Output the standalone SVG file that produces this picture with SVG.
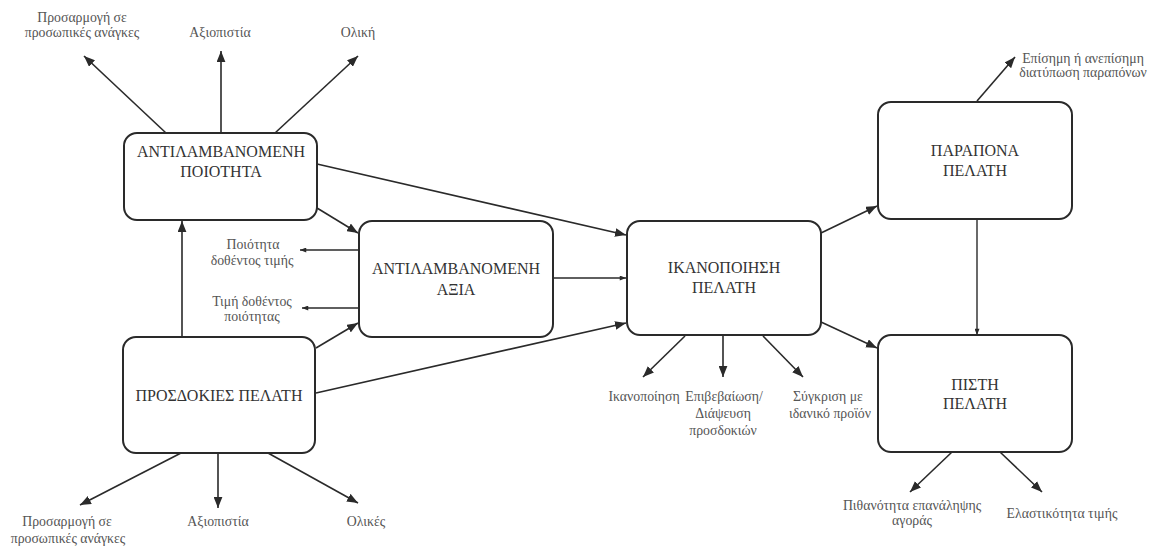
<svg xmlns="http://www.w3.org/2000/svg" width="1158" height="549" viewBox="0 0 1158 549">
<defs>
<marker id="ah" markerUnits="userSpaceOnUse" viewBox="0 0 10 8" refX="10" refY="4" markerWidth="11" markerHeight="9" orient="auto">
<path d="M0,0 L10,4 L0,8 z" fill="#2a2a2a"/>
</marker>
<marker id="ahs" markerUnits="userSpaceOnUse" viewBox="0 0 10 8" refX="10" refY="4" markerWidth="7" markerHeight="5" orient="auto">
<path d="M0,0 L10,4 L0,8 z" fill="#2a2a2a"/>
</marker>
<style>
.box{fill:#fff;stroke:#2a2a2a;stroke-width:2}
.nt{font-family:"Liberation Serif","DejaVu Serif",serif;font-size:16px;fill:#333;text-anchor:middle}
.lb{font-family:"Liberation Serif","DejaVu Serif",serif;font-size:13.8px;fill:#555;text-anchor:middle}
.c{stroke:#2a2a2a;stroke-width:1.6;fill:none;marker-end:url(#ah)}
.cs{stroke:#2a2a2a;stroke-width:1.4;fill:none;marker-end:url(#ahs)}
</style>
</defs>
<rect width="1158" height="549" fill="#fff"/>

<g id="connectors">
<line class="c" x1="166" y1="133" x2="84" y2="56"/>
<line class="c" x1="221" y1="133" x2="221" y2="51"/>
<line class="c" x1="275" y1="133" x2="358" y2="56"/>
<line class="c" x1="181" y1="453" x2="80" y2="505"/>
<line class="c" x1="218" y1="453" x2="218" y2="508"/>
<line class="c" x1="268" y1="453" x2="358" y2="503"/>
<line class="c" x1="182" y1="337" x2="182" y2="221"/>
<line class="c" x1="317" y1="208" x2="358" y2="233"/>
<line class="c" x1="317" y1="164" x2="626" y2="235"/>
<line class="c" x1="316" y1="348" x2="358" y2="323"/>
<line class="c" x1="316" y1="393" x2="626" y2="323"/>
<line class="cs" x1="553" y1="278" x2="626" y2="278"/>
<line class="cs" x1="359" y1="250" x2="300" y2="250"/>
<line class="cs" x1="359" y1="308" x2="302" y2="308"/>
<line class="c" x1="685" y1="336" x2="643" y2="377"/>
<line class="c" x1="723" y1="336" x2="723" y2="377"/>
<line class="c" x1="763" y1="336" x2="803" y2="377"/>
<line class="c" x1="821" y1="233" x2="877" y2="206"/>
<line class="c" x1="821" y1="322" x2="877" y2="348"/>
<line class="cs" x1="977" y1="219" x2="977" y2="335"/>
<line class="c" x1="977" y1="101" x2="1015" y2="57"/>
<line class="c" x1="952" y1="452" x2="910" y2="492"/>
<line class="c" x1="1000" y1="452" x2="1042" y2="492"/>
</g>

<g id="node-poiotita">
<rect class="box" x="124" y="133" width="193" height="87" rx="13"/>
<text class="nt" x="221" y="157">ΑΝΤΙΛΑΜΒΑΝΟΜΕΝΗ</text>
<text class="nt" x="221" y="177">ΠΟΙΟΤΗΤΑ</text>
</g>
<g id="node-axia">
<rect class="box" x="359" y="221" width="194" height="116" rx="13"/>
<text class="nt" x="456" y="274">ΑΝΤΙΛΑΜΒΑΝΟΜΕΝΗ</text>
<text class="nt" x="456" y="295">ΑΞΙΑ</text>
</g>
<g id="node-ikanopoiisi">
<rect class="box" x="627" y="221" width="194" height="114" rx="13"/>
<text class="nt" x="724" y="273">ΙΚΑΝΟΠΟΙΗΣΗ</text>
<text class="nt" x="724" y="293">ΠΕΛΑΤΗ</text>
</g>
<g id="node-parapona">
<rect class="box" x="878" y="102" width="194" height="117" rx="13"/>
<text class="nt" x="975" y="156">ΠΑΡΑΠΟΝΑ</text>
<text class="nt" x="975" y="176">ΠΕΛΑΤΗ</text>
</g>
<g id="node-pisti">
<rect class="box" x="878" y="335" width="194" height="117" rx="13"/>
<text class="nt" x="975" y="390">ΠΙΣΤΗ</text>
<text class="nt" x="975" y="409">ΠΕΛΑΤΗ</text>
</g>
<g id="node-prosdokies">
<rect class="box" x="123" y="337" width="192" height="116" rx="13"/>
<text class="nt" x="219" y="401">ΠΡΟΣΔΟΚΙΕΣ ΠΕΛΑΤΗ</text>
</g>

<g id="labels">
<text class="lb" x="82" y="22">Προσαρμογή σε</text>
<text class="lb" x="82" y="37">προσωπικές ανάγκες</text>
<text class="lb" x="220" y="37">Αξιοπιστία</text>
<text class="lb" x="358" y="37">Ολική</text>
<text class="lb" x="1083" y="63">Επίσημη ή ανεπίσημη</text>
<text class="lb" x="1083" y="77">διατύπωση παραπόνων</text>
<text class="lb" x="253" y="249">Ποιότητα</text>
<text class="lb" x="252" y="265">δοθέντος τιμής</text>
<text class="lb" x="252" y="306">Τιμή δοθέντος</text>
<text class="lb" x="252" y="321">ποιότητας</text>
<text class="lb" x="644" y="401">Ικανοποίηση</text>
<text class="lb" x="724" y="401">Επιβεβαίωση/</text>
<text class="lb" x="723" y="418">Διάψευση</text>
<text class="lb" x="723" y="435">προσδοκιών</text>
<text class="lb" x="828" y="401">Σύγκριση με</text>
<text class="lb" x="830" y="418">ιδανικό προϊόν</text>
<text class="lb" x="912" y="510">Πιθανότητα επανάληψης</text>
<text class="lb" x="912" y="525">αγοράς</text>
<text class="lb" x="1062" y="518">Ελαστικότητα τιμής</text>
<text class="lb" x="67" y="526">Προσαρμογή σε</text>
<text class="lb" x="68" y="543">προσωπικές ανάγκες</text>
<text class="lb" x="218" y="526">Αξιοπιστία</text>
<text class="lb" x="366" y="526">Ολικές</text>
</g>
</svg>
